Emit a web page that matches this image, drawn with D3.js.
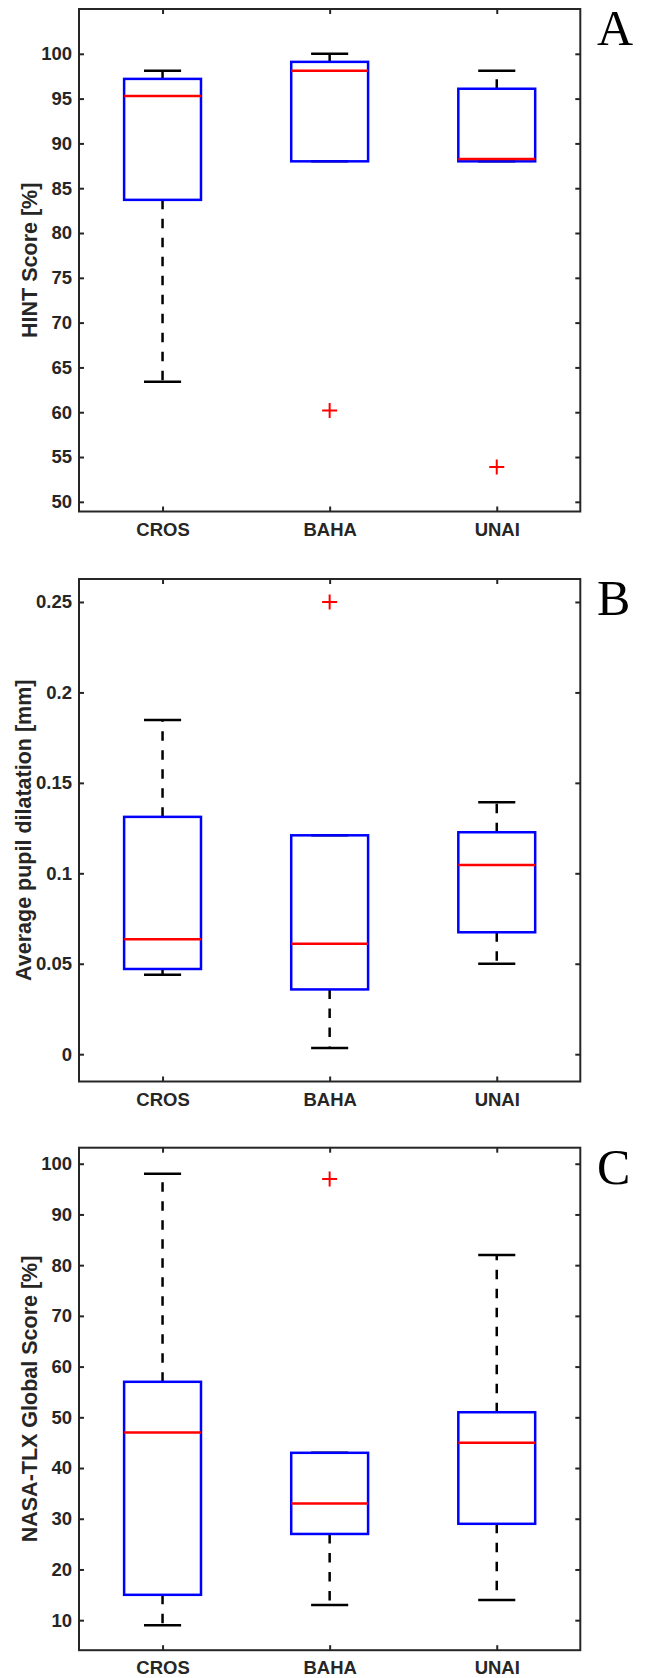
<!DOCTYPE html>
<html>
<head>
<meta charset="utf-8">
<script src="https://cdn.jsdelivr.net/npm/d3@7"></script>
<style>
  body { margin: 0; background: #fff; }
  text { font-family: "Liberation Sans", Arial, sans-serif; }
</style>
</head>
<body>
<script>
// groups on the x axis
var categories = ["CROS", "BAHA", "UNAI"];

// box stats per group: [lower whisker, q1, median, q3, upper whisker]
var hintStats = [[63.4, 83.7, 95.3, 97.2, 98.1], [88, 88, 98.1, 99.1, 100], [88, 88, 88.25, 96.1, 98.1]];
var hintOutliers = [[], [60.2], [53.9]];
var hintTicks = [50, 55, 60, 65, 70, 75, 80, 85, 90, 95, 100];

var pupilStats = [[0.0439, 0.0471, 0.0636, 0.1312, 0.1848], [0.0034, 0.0358, 0.0611, 0.121, 0.121], [0.05, 0.0674, 0.1046, 0.1227, 0.1393]];
var pupilOutliers = [[], [0.25], []];
var pupilTicks = [0, 0.05, 0.1, 0.15, 0.2, 0.25];

var tlxStats = [[9, 15, 47, 57, 98], [13, 27, 33, 43, 43], [14, 29, 45, 51, 82]];
var tlxOutliers = [[], [97], []];
var tlxTicks = [10, 20, 30, 40, 50, 60, 70, 80, 90, 100];

var panels = [
  { letter: "A", label: "HINT Score [%]", stats: hintStats, outliers: hintOutliers, ticks: hintTicks, domain: [48.92, 105], top: 9, labelX: 36.5 },
  { letter: "B", label: "Average pupil dilatation [mm]", stats: pupilStats, outliers: pupilOutliers, ticks: pupilTicks, domain: [-0.0151, 0.2627], top: 579, labelX: 31 },
  { letter: "C", label: "NASA-TLX Global Score [%]", stats: tlxStats, outliers: tlxOutliers, ticks: tlxTicks, domain: [4.08, 103.16], top: 1147.7, labelX: 36.5 }
];

var width = 646, height = 1678;
var left = 79, right = 580.3, plotH = 502.5;
var frameColor = "#262626";

var svg = d3.select("body").append("svg")
  .attr("width", width)
  .attr("height", height);

var x = d3.scaleLinear().domain([0.5, 3.5]).range([left, right]);

panels.forEach(function (p) {
  var y = d3.scaleLinear().domain(p.domain).range([p.top + plotH, p.top]);
  var g = svg.append("g");

  // frame
  g.append("rect")
    .attr("x", left).attr("y", p.top)
    .attr("width", right - left).attr("height", plotH)
    .attr("fill", "none").attr("stroke", frameColor).attr("stroke-width", 2);

  // y ticks (inward, both sides) and labels
  var yAxis = d3.axisLeft(y).tickValues(p.ticks).tickSize(-5).tickPadding(7)
    .tickFormat(function (d) { return d3.format("~g")(d); });
  var ya = g.append("g").attr("transform", "translate(" + left + ",0)").call(yAxis);
  ya.select(".domain").remove();
  ya.selectAll("line").attr("stroke", frameColor).attr("stroke-width", 2);
  ya.selectAll("text").attr("fill", frameColor).style("font-size", "18.5px").style("font-weight", "bold");

  var yr = g.append("g").attr("transform", "translate(" + right + ",0)")
    .call(d3.axisRight(y).tickValues(p.ticks).tickSize(-5).tickFormat(""));
  yr.select(".domain").remove();
  yr.selectAll("line").attr("stroke", frameColor).attr("stroke-width", 2);

  // x ticks bottom + top
  var xAxis = d3.axisBottom(x).tickValues([1, 2, 3]).tickSize(-5).tickPadding(11)
    .tickFormat(function (d) { return categories[d - 1]; });
  var xa = g.append("g").attr("transform", "translate(0," + (p.top + plotH) + ")").call(xAxis);
  xa.select(".domain").remove();
  xa.selectAll("line").attr("stroke", frameColor).attr("stroke-width", 2);
  xa.selectAll("text").attr("fill", frameColor).style("font-size", "18.5px").style("font-weight", "bold");

  var xt = g.append("g").attr("transform", "translate(0," + p.top + ")")
    .call(d3.axisTop(x).tickValues([1, 2, 3]).tickSize(-5).tickFormat(""));
  xt.select(".domain").remove();
  xt.selectAll("line").attr("stroke", frameColor).attr("stroke-width", 2);

  // boxes
  var boxHalf = 0.23, capHalf = 0.111;
  p.stats.forEach(function (s, i) {
    var c = i + 1;
    // whiskers
    if (s[4] > s[3]) {
      g.append("line")
        .attr("x1", x(c)).attr("x2", x(c))
        .attr("y1", y(s[3])).attr("y2", y(s[4]))
        .attr("stroke", "#000").attr("stroke-width", 2.5).attr("stroke-dasharray", "9.5,9.5");
    }
    if (s[0] < s[1]) {
      g.append("line")
        .attr("x1", x(c)).attr("x2", x(c))
        .attr("y1", y(s[1])).attr("y2", y(s[0]))
        .attr("stroke", "#000").attr("stroke-width", 2.5).attr("stroke-dasharray", "9.5,9.5");
    }
    // caps
    [s[0], s[4]].forEach(function (v) {
      g.append("line")
        .attr("x1", x(c - capHalf)).attr("x2", x(c + capHalf))
        .attr("y1", y(v)).attr("y2", y(v))
        .attr("stroke", "#000").attr("stroke-width", 2.5);
    });
    // box
    g.append("rect")
      .attr("x", x(c - boxHalf)).attr("y", y(s[3]))
      .attr("width", x(c + boxHalf) - x(c - boxHalf))
      .attr("height", y(s[1]) - y(s[3]))
      .attr("fill", "none").attr("stroke", "#0000ff").attr("stroke-width", 2.5);
    // median
    g.append("line")
      .attr("x1", x(c - boxHalf)).attr("x2", x(c + boxHalf))
      .attr("y1", y(s[2])).attr("y2", y(s[2]))
      .attr("stroke", "#ff0000").attr("stroke-width", 2.5);
    // outliers
    p.outliers[i].forEach(function (v) {
      g.append("path")
        .attr("d", "M" + (x(c) - 7.5) + "," + y(v) + "h15M" + x(c) + "," + (y(v) - 7.5) + "v15")
        .attr("stroke", "#ff0000").attr("stroke-width", 2).attr("fill", "none");
    });
  });

  // y label
  g.append("text")
    .attr("transform", "translate(" + p.labelX + "," + (p.top + plotH / 2) + ") rotate(-90)")
    .attr("text-anchor", "middle")
    .attr("fill", frameColor)
    .style("font-size", "21.5px").style("font-weight", "bold")
    .text(p.label);

  // panel letter
  g.append("text")
    .attr("x", 597).attr("y", p.top + 36)
    .style("font-family", "'Liberation Serif', 'Times New Roman', serif")
    .style("font-size", "50px")
    .attr("fill", "#000")
    .text(p.letter);
});
</script>
</body>
</html>
